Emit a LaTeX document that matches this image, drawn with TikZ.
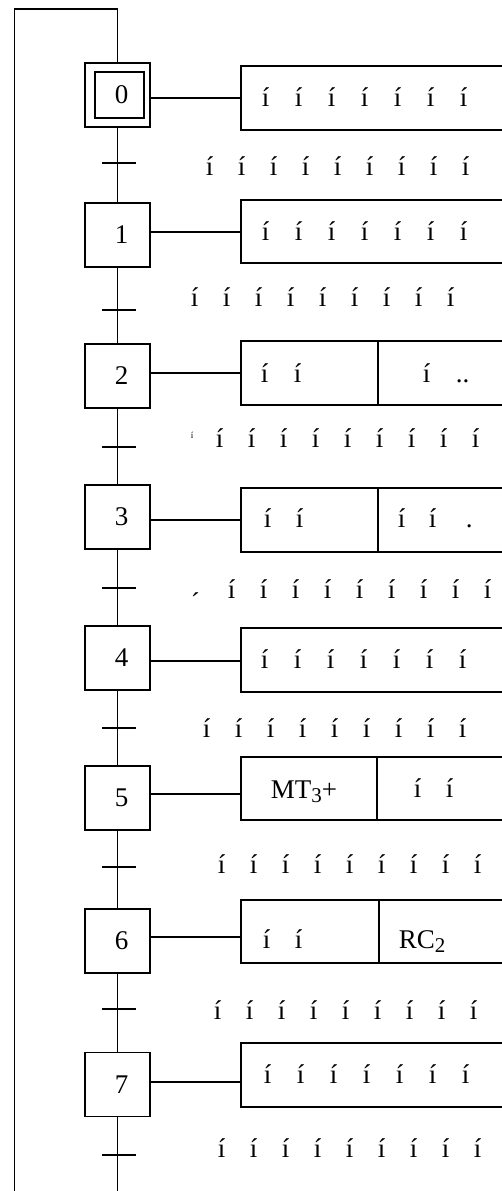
\documentclass[tikz,border=0pt]{standalone}
\usepackage{fontspec}
\setmainfont{Liberation Serif}
\newcommand{\Ii}{\makebox[33pt][l]{í}}
\newcommand{\It}{\makebox[32pt][l]{í}}
\newcommand{\Sub}[1]{\raisebox{-4pt}{\fontsize{21}{21}\selectfont #1}}
\begin{document}
\begin{tikzpicture}[x=1pt,y=-1pt,line width=1.9pt,
  font=\fontsize{27}{31}\selectfont,
  stepbox/.style={draw,rectangle,minimum width=65pt,minimum height=64pt,inner sep=0pt},
  actbox/.style={draw,rectangle,minimum width=279pt,inner sep=0pt},
  txt/.style={inner sep=0pt,anchor=base west},
  trans/.style={line width=1.9pt}]
\useasboundingbox (0,0) rectangle (502,1191);
\begin{scope}
\clip (0,0) rectangle (502,1191);
% frame coordinates
\coordinate (top) at (117.5,9);
\coordinate (topL) at (14.5,9);
\coordinate (botL) at (14.5,1196);
\coordinate (bot) at (117.5,1196);
% steps
\node[stepbox] (s0) at (117.5,95) {};
\node[draw,rectangle,minimum width=49pt,minimum height=46pt,inner sep=0pt] (s0i) at (119.5,95) {\hspace*{4pt}0};
\node[stepbox] (s1) at (117.5,235) {\hspace*{8pt}1};
\node[stepbox] (s2) at (117.5,376) {\hspace*{8pt}2};
\node[stepbox] (s3) at (117.5,517) {\hspace*{8pt}3};
\node[stepbox] (s4) at (117.5,658) {\hspace*{8pt}4};
\node[stepbox] (s5) at (117.5,798) {\hspace*{8pt}5};
\node[stepbox] (s6) at (117.5,941) {\hspace*{8pt}6};
\node[stepbox] (s7) at (117.5,1084.5) {\hspace*{8pt}7};
% main line and loop back
\draw (botL) -- (topL) -- (top) -- (s0.north);
\draw (s0.south) -- (s1.north);
\draw (s1.south) -- (s2.north);
\draw (s2.south) -- (s3.north);
\draw (s3.south) -- (s4.north);
\draw (s4.south) -- (s5.north);
\draw (s5.south) -- (s6.north);
\draw (s6.south) -- (s7.north);
\draw (s7.south) -- (bot);
% transitions
\foreach \n/\y in {0/163,1/310,2/447,3/588,4/728,5/867,6/1009,7/1155}{
  \coordinate (t\n) at (119,\y);
  \draw[trans] ([xshift=-17pt]t\n) -- ([xshift=17pt]t\n);
}
% action boxes
\node[actbox,minimum height=64pt] (a0) at (380.5,98) {};
\node[actbox,minimum height=63pt] (a1) at (380.5,231.5) {};
\node[actbox,minimum height=64pt] (a2) at (380.5,373) {};
\node[actbox,minimum height=64pt] (a3) at (380.5,520) {};
\node[actbox,minimum height=64pt] (a4) at (380.5,660) {};
\node[actbox,minimum height=63pt] (a5) at (380.5,788.5) {};
\node[actbox,minimum height=63pt] (a6) at (380.5,931.5) {};
\node[actbox,minimum height=64pt] (a7) at (380.5,1075) {};
% links step -> action
\foreach \n/\y in {0/98,1/232,2/373,3/520,4/661,5/794,6/937,7/1082}{
  \coordinate (l\n) at (0,\y);
  \draw (s\n.east |- l\n) -- (a\n.west |- l\n);
}
% dividers
\coordinate (d2) at (378,0);
\coordinate (d3) at (378,0);
\coordinate (d5) at (377,0);
\coordinate (d6) at (379,0);
\draw (a2.north -| d2) -- (a2.south -| d2);
\draw (a3.north -| d3) -- (a3.south -| d3);
\draw (a5.north -| d5) -- (a5.south -| d5);
\draw (a6.north -| d6) -- (a6.south -| d6);
% action texts
\node[txt] (x0) at (261,106) {\Ii\Ii\Ii\Ii\Ii\Ii í};
\node[txt] (x1) at (261,240) {\Ii\Ii\Ii\Ii\Ii\Ii í};
\node[txt] (x2a) at (260,382) {\Ii í};
\node[txt] (x2b) at (422,382) {\makebox[33pt][l]{í}..};
\node[txt] (x3a) at (263,527) {\makebox[32pt][l]{í}í};
\node[txt] (x3b) at (397,527) {\makebox[31pt][l]{í}\makebox[37pt][l]{í}.};
\node[txt] (x4) at (260,668) {\Ii\Ii\Ii\Ii\Ii\Ii í};
\node[txt] (x5a) at (270,798) {MT\Sub{3}+};
\node[txt] (x5b) at (413,797) {\makebox[32pt][l]{í}í};
\node[txt] (x6a) at (262,948) {\makebox[32pt][l]{í}í};
\node[txt] (x6b) at (398,948) {RC\Sub{2}};
\node[txt] (x7) at (263,1083) {\Ii\Ii\Ii\Ii\Ii\Ii í};
% transition texts
\node[txt] (y0) at (205,175) {\It\It\It\It\It\It\It\It í};
\node[txt] (y1) at (190,306) {\It\It\It\It\It\It\It\It í};
\node[txt] (y2m) at (190,438) {\fontsize{9}{9}\selectfont í};
\node[txt] (y2) at (215,447) {\It\It\It\It\It\It\It\It í};
\node[txt] (y3m) at (190,598) {\raisebox{-13pt}{´}};
\node[txt] (y3) at (227,598) {\It\It\It\It\It\It\It\It í};
\node[txt] (y4) at (202,737) {\It\It\It\It\It\It\It\It í};
\node[txt] (y5) at (217,873) {\It\It\It\It\It\It\It\It í};
\node[txt] (y6) at (213,1019) {\It\It\It\It\It\It\It\It í};
\node[txt] (y7) at (217,1157) {\It\It\It\It\It\It\It\It í};
\end{scope}
\end{tikzpicture}
\end{document}
